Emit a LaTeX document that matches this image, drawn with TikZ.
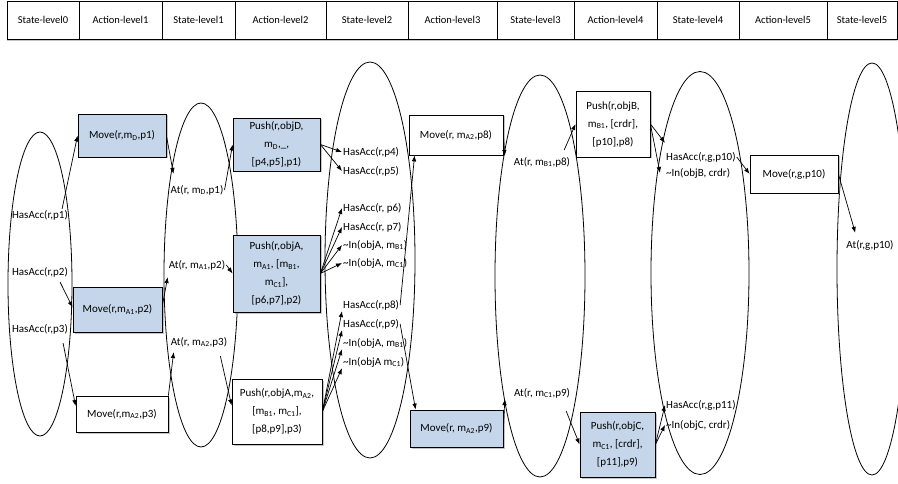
\documentclass[tikz,border=0pt]{standalone}
\usepackage{fontspec}
\setmainfont{Carlito}
\usepackage{xcolor}
\usepackage{tikz}
\usetikzlibrary{positioning,shapes.geometric,arrows.meta,shadows}
\definecolor{azionebg}{RGB}{198,214,234}

\begin{document}
\begin{tikzpicture}[x=1pt,y=-1pt,
    every node/.style={font=\fontsize{11}{18}\selectfont, inner sep=1pt},
    stato/.style={ellipse, draw, line width=0.8pt},
    azione/.style={rectangle, draw, line width=0.8pt, fill=white, align=center,
      drop shadow={shadow xshift=1.5pt, shadow yshift=-1.5pt, fill=black!45}},
    blu/.style={azione, fill=azionebg},
    livello/.style={rectangle, draw, line width=0.8pt, fill=white, minimum height=38,
      font=\fontsize{10.5}{12}\selectfont,
      drop shadow={shadow xshift=0pt, shadow yshift=-2pt, fill=black!45}},
    freccia/.style={-{Latex[length=6pt,width=4.5pt]}, line width=0.7pt}]

      \useasboundingbox (0,0) rectangle (898,484);

      % Intestazione
      \foreach \a/\b/\testo [count=\i from 0] in {7/79/State-level0, 79/162/Action-level1,
          162/235/State-level1, 235/326/Action-level2, 326/408/State-level2,
          408/497/Action-level3, 497/574/State-level3, 574/657/Action-level4,
          657/739/State-level4, 739/827/Action-level5, 827/897/State-level5}{
        \pgfmathsetmacro\w{\b-\a}
        \node (L\i) at ({(\a+\b)/2},20) [livello, minimum width=\w] {\testo};
      }

      % Livelli di stato
      \node (S0) at (40,284) [stato, minimum width=64, minimum height=304] {};
      \node (S1) at (201,275) [stato, minimum width=74, minimum height=344] {};
      \node (S2) at (370,260) [stato, minimum width=90, minimum height=396] {};
      \node (S3) at (540,276) [stato, minimum width=90, minimum height=402] {};
      \node (S4) at (700,273) [stato, minimum width=98, minimum height=403] {};
      \node (S5) at (872,269) [stato, minimum width=70, minimum height=412] {};

      % Stato 0
      \node (hp1) at (40,215) {HasAcc(r,p1)};
      \node (hp2) at (40,272) {HasAcc(r,p2)};
      \node (hp3) at (40,329) {HasAcc(r,p3)};

      % Stato 1
      \node (at1) at (197,190) {At(r, m\textsubscript{D},p1)};
      \node (at2) at (197,265) {At(r, m\textsubscript{A1},p2)};
      \node (at3) at (199,342) {At(r, m\textsubscript{A2},p3)};

      % Stato 2
      \node (h4) at (342,152) [anchor=west] {HasAcc(r,p4)};
      \node (h5) at (342,171) [anchor=west] {HasAcc(r,p5)};
      \node (h6) at (342,208) [anchor=west] {HasAcc(r, p6)};
      \node (h7) at (342,227) [anchor=west] {HasAcc(r, p7)};
      \node (n1) at (342,245) [anchor=west] {\textasciitilde In(objA, m\textsubscript{B1})};
      \node (n2) at (342,263) [anchor=west] {\textasciitilde In(objA, m\textsubscript{C1})};
      \node (h8) at (342,305) [anchor=west] {HasAcc(r,p8)};
      \node (h9) at (342,324) [anchor=west] {HasAcc(r,p9)};
      \node (n3) at (342,343) [anchor=west] {\textasciitilde In(objA, m\textsubscript{B1})};
      \node (n4) at (342,362) [anchor=west] {\textasciitilde In(objA m\textsubscript{C1})};

      % Stato 3
      \node (at4) at (542,162) {At(r, m\textsubscript{B1},p8)};
      \node (at5) at (542,393) {At(r, m\textsubscript{C1},p9)};

      % Stato 4
      \node (h10) at (665,157) [anchor=west] {HasAcc(r,g,p10)};
      \node (n5) at (665,173) [anchor=west] {\textasciitilde In(objB, crdr)};
      \node (h11) at (665,405) [anchor=west] {HasAcc(r,g,p11)};
      \node (n6) at (665,425) [anchor=west] {\textasciitilde In(objC, crdr)};

      % Stato 5
      \node (atG) at (870,245) {At(r,g,p10)};

      % Azioni livello 1
      \node (mvD) at (122,135.5) [blu, minimum width=88, minimum height=43] {Move(r,m\textsubscript{D},p1)};
      \node (mvA1) at (117.5,309.5) [blu, minimum width=89, minimum height=45] {Move(r,m\textsubscript{A1},p2)};
      \node (mvA2) at (122,414) [azione, minimum width=92, minimum height=36] {Move(r,m\textsubscript{A2},p3)};

      % Azioni livello 2
      \node (puD) at (276.5,144.5) [blu, minimum width=87, minimum height=53]
        {Push(r,objD,\\m\textsubscript{D},\_,\\{[p4,p5],p1)}};
      \node (puA1) at (276.5,273.5) [blu, minimum width=87, minimum height=77]
        {Push(r,objA,\\m\textsubscript{A1}, [m\textsubscript{B1},\\m\textsubscript{C1}],\\{[p6,p7],p2)}};
      \node (puA2) at (277,411.5) [azione, minimum width=90, minimum height=65]
        {Push(r,objA,m\textsubscript{A2},\\{[m\textsubscript{B1}, m\textsubscript{C1}],}\\{[p8,p9],p3)}};

      % Azioni livello 3
      \node (mvP8) at (456,135) [azione, minimum width=94, minimum height=40] {Move(r, m\textsubscript{A2},p8)};
      \node (mvP9) at (456.5,428.5) [blu, minimum width=93, minimum height=37] {Move(r, m\textsubscript{A2},p9)};

      % Azioni livello 4
      \node (puB) at (613,124) [azione, minimum width=74, minimum height=66]
        {Push(r,objB,\\m\textsubscript{B1}, [crdr],\\{[p10],p8)}};
      \node (puC) at (617.5,444.5) [blu, minimum width=75, minimum height=65]
        {Push(r,objC,\\m\textsubscript{C1}, [crdr],\\{[p11],p9)}};

      % Azioni livello 5
      \node (mvG) at (794,174) [azione, minimum width=88, minimum height=38] {Move(r,g,p10)};

      % Collegamenti
      \draw[freccia] ([xshift=-7pt]hp1.north east) -- (mvD.west);
      \draw[freccia] ([xshift=-9pt,yshift=-4pt]hp2.south east) -- ([yshift=2pt]mvA1.west);
      \draw[freccia] ([xshift=-6pt,yshift=-8pt]hp3.south east) -- ([yshift=8pt]mvA2.west);
      \draw[freccia] (mvD.east) -- ([xshift=4pt,yshift=10pt]at1.north west);
      \draw[freccia] ([yshift=4pt]mvA1.east) -- ([yshift=-6pt]at2.south west);
      \draw[freccia] (mvA2.north east) -- ([xshift=4pt,yshift=-4pt]at3.south west);
      \draw[freccia] (at1.east) -- (puD.west);
      \draw[freccia] (at2.east) -- (puA1.west);
      \draw[freccia] ([xshift=-8pt,yshift=-8pt]at3.south east) -- ([yshift=6pt]puA2.west);
      \draw[freccia] (puD.east) -- (h4.west);
      \draw[freccia] (puD.east) -- (h5.west);
      \draw[freccia] (puA1.east) -- (h6.west);
      \draw[freccia] (puA1.east) -- (h7.west);
      \draw[freccia] (puA1.east) -- (n1.west);
      \draw[freccia] (puA1.east) -- (n2.west);
      \draw[freccia] (puA2.east) -- (h8.south west);
      \draw[freccia] (puA2.east) -- (h9.south west);
      \draw[freccia] (puA2.east) -- (n3.south west);
      \draw[freccia] (puA2.east) -- (n4.south west);
      \draw[freccia] (h8.east) -- ([xshift=6pt]mvP8.south west);
      \draw[freccia] (h9.east) -- ([xshift=6pt]mvP9.north west);
      \draw[freccia] (mvP8.east) -- ([xshift=-8pt]at4.north west);
      \draw[freccia] (mvP9.east) -- ([xshift=-8pt]at5.south west);
      \draw[freccia] ([xshift=-7pt,yshift=6pt]at4.north east) -- (puB.west);
      \draw[freccia] ([xshift=-5pt,yshift=-12pt]at5.south east) -- (puC.west);
      \draw[freccia] (puB.east) -- ([yshift=8pt]h10.north west);
      \draw[freccia] (puB.east) -- ([xshift=-5pt]n5.west);
      \draw[freccia] (puC.east) -- (h11.west);
      \draw[freccia] (puC.east) -- (n6.west);
      \draw[freccia] (h10.east) -- (mvG.west);
      \draw[freccia] (mvG.east) -- ([xshift=10pt,yshift=6pt]atG.north west);
\end{tikzpicture}
\end{document}
